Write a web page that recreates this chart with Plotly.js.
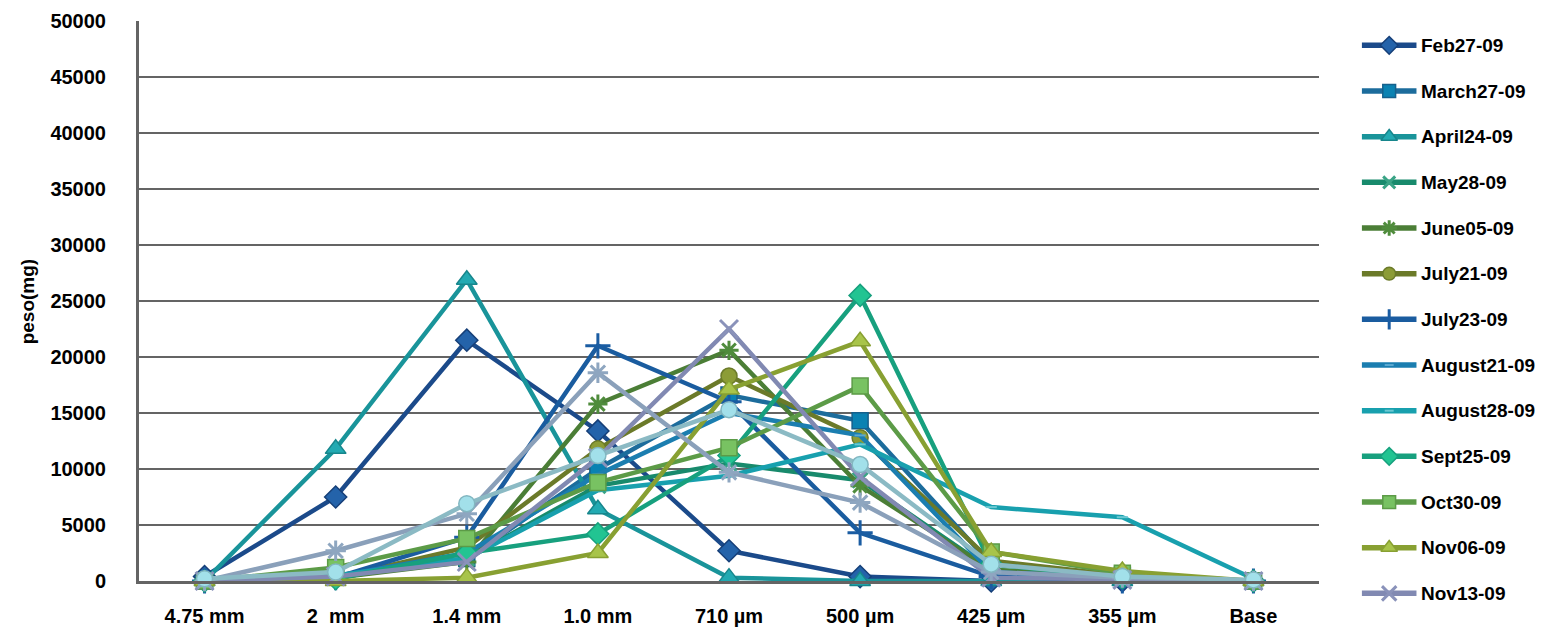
<!DOCTYPE html>
<html>
<head>
<meta charset="utf-8">
<script src="https://cdn.plot.ly/plotly-3.0.1.min.js"></script>
<style>
  html, body { margin: 0; padding: 0; background: #ffffff; }
  #chart { width: 1557px; height: 631px; }
</style>
</head>
<body>
<div id="chart"></div>
<script>
// Sieve fractions (x axis)
const categories = ["4.75 mm", "2\u00a0 mm", "1.4 mm", "1.0 mm", "710 µm", "500 µm", "425 µm", "355 µm", "Base"];

// Retained weight per sampling date, mg
const feb27    = [400, 7500, 21500, 13400, 2700, 400, 0, 0, 0];
const march27  = [0, 500, 2000, 10000, 16600, 14300, 1500, 500, 0];
const april24  = [0, 11800, 26900, 6400, 300, 0, 0, 0, 0];
const may28    = [0, 300, 2000, 8500, 10500, 9000, 1000, 300, 0];
const june05   = [0, 300, 1700, 15800, 20600, 8500, 1000, 400, 0];
const july21   = [0, 300, 3000, 11800, 18300, 12800, 1800, 500, 0];
const july23   = [0, 300, 3900, 21000, 16000, 4300, 400, 0, 0];
const august21 = [0, 400, 2500, 9500, 15000, 13000, 800, 300, 0];
const august28 = [0, 500, 2000, 8100, 9400, 12200, 6600, 5700, 200];
const sept25   = [0, 200, 2500, 4200, 11200, 25500, 1500, 300, 0];
const oct30    = [0, 1200, 3800, 8800, 11900, 17400, 2600, 700, 0];
const nov06    = [0, 0, 300, 2500, 17100, 21400, 2600, 900, 0];
const nov13    = [0, 400, 1700, 11000, 22500, 9300, 300, 100, 0];
const nov27    = [0, 2700, 6000, 18600, 9700, 7000, 800, 300, 0];
const dec11    = [200, 800, 6900, 11200, 15300, 10400, 1500, 400, 100];

// Series styling: line colour, marker symbol, marker fill, marker outline, size
const series = [
  {name: "Feb27-09",    y: feb27,    line: "#1b4a8a", sym: "diamond",     fill: "#2463aa", edge: "#163f78", size: 17, legend: true},
  {name: "March27-09",  y: march27,  line: "#1c6c9c", sym: "square",      fill: "#0a82b2", edge: "#15608c", size: 16, legend: true},
  {name: "April24-09",  y: april24,  line: "#19949a", sym: "triangle-up", fill: "#22aab2", edge: "#17868c", size: 18, legend: true},
  {name: "May28-09",    y: may28,    line: "#188a6c", sym: "x-thin",      fill: "#3aa486", edge: "#3aa486", size: 15, legend: true},
  {name: "June05-09",   y: june05,   line: "#4b7e36", sym: "asterisk",    fill: "#4f8c3c", edge: "#4f8c3c", size: 16, legend: true},
  {name: "July21-09",   y: july21,   line: "#6b7a29", sym: "circle",      fill: "#8c9c36", edge: "#6b7a29", size: 16, legend: true},
  {name: "July23-09",   y: july23,   line: "#1a5c9f", sym: "cross-thin",  fill: "#1a5ca2", edge: "#1a5ca2", size: 18, legend: true},
  {name: "August21-09", y: august21, line: "#1b7eb0", sym: "line-ew",     fill: "#5aa8d0", edge: "#5aa8d0", size: 8,  legend: true},
  {name: "August28-09", y: august28, line: "#18a0ae", sym: "line-ew",     fill: "#6ac8d2", edge: "#6ac8d2", size: 8,  legend: true},
  {name: "Sept25-09",   y: sept25,   line: "#17a07e", sym: "diamond",     fill: "#22c492", edge: "#17a07e", size: 17, legend: true},
  {name: "Oct30-09",    y: oct30,    line: "#5c9b47", sym: "square",      fill: "#78c262", edge: "#5c9b47", size: 16, legend: true},
  {name: "Nov06-09",    y: nov06,    line: "#88a032", sym: "triangle-up", fill: "#a8c44a", edge: "#88a032", size: 18, legend: true},
  {name: "Nov13-09",    y: nov13,    line: "#8189b2", sym: "x-thin",      fill: "#8a92ba", edge: "#8a92ba", size: 18, legend: true},
  {name: "Nov27-09",    y: nov27,    line: "#8aa0ba", sym: "asterisk",    fill: "#8ea6c0", edge: "#8ea6c0", size: 17, legend: false},
  {name: "Dec11-09",    y: dec11,    line: "#8bbac4", sym: "circle",      fill: "#a2e0ea", edge: "#82b6c0", size: 16, legend: false}
];

const lineOnly = s => /thin|asterisk|line-/.test(s);

function markerStyle(s, scale) {
  if (lineOnly(s.sym)) {
    return {symbol: s.sym, size: s.size * scale, color: s.edge,
            line: {color: s.edge, width: s.sym === "line-ew" ? 2 : 3}};
  }
  return {symbol: s.sym, size: s.size * scale, color: s.fill,
          line: {color: s.edge, width: 1.5}};
}

const traces = [];
series.forEach(s => {
  traces.push({
    type: "scatter", mode: "lines+markers", name: s.name,
    x: categories, y: s.y, xaxis: "x", yaxis: "y",
    line: {color: s.line, width: 4.5},
    marker: markerStyle(s, 1),
    cliponaxis: false, showlegend: false, hoverinfo: "skip"
  });
});

// Legend drawn on its own small axis pair: one row per series
const legendRows = series.filter(s => s.legend);
const annotations = [];
legendRows.forEach((s, i) => {
  traces.push({
    type: "scatter", mode: "lines", x: [0, 1], y: [i, i],
    xaxis: "x2", yaxis: "y2", line: {color: s.line, width: 5.5},
    showlegend: false, hoverinfo: "skip", cliponaxis: false
  });
  traces.push({
    type: "scatter", mode: "markers", x: [0.5], y: [i],
    xaxis: "x2", yaxis: "y2", marker: markerStyle(s, 0.8),
    showlegend: false, hoverinfo: "skip", cliponaxis: false
  });
  annotations.push({
    xref: "x2", yref: "y2", x: 1, y: i, xanchor: "left", yanchor: "middle",
    xshift: 2, showarrow: false, text: s.name,
    font: {family: "Liberation Sans, Arial, sans-serif", size: 19, color: "#000000", weight: "bold"}
  });
});

annotations.push({
  xref: "paper", yref: "paper", x: -0.0795, y: 0.525, xanchor: "center", yanchor: "middle",
  textangle: -90, showarrow: false, text: "peso(mg)",
  font: {family: "Liberation Sans, Arial, sans-serif", size: 19, color: "#000000", weight: "bold"}
});

const tickFont = {family: "Liberation Sans, Arial, sans-serif", size: 20, color: "#000000", weight: "bold"};

const layout = {
  width: 1557, height: 631,
  margin: {l: 139, r: 10, t: 21, b: 20},
  paper_bgcolor: "#ffffff", plot_bgcolor: "#ffffff",
  showlegend: false,
  xaxis: {
    domain: [0, 0.83807], type: "category", range: [-0.5, 8.5],
    showgrid: false, zeroline: false, showline: true,
    linecolor: "#646464", linewidth: 3, ticks: "",
    tickfont: tickFont, ticklabelstandoff: 15, fixedrange: true
  },
  yaxis: {
    domain: [0.05085, 1], range: [0, 50000], dtick: 5000, tickformat: "d",
    showgrid: true, gridcolor: "#646464", gridwidth: 2.5,
    zeroline: false, showline: true, linecolor: "#646464", linewidth: 3,
    ticks: "", tickfont: tickFont, ticklabelstandoff: 26, fixedrange: true
  },
  xaxis2: {domain: [0.86839, 0.90745], range: [0, 1], anchor: "y2", visible: false, fixedrange: true},
  yaxis2: {domain: [0, 1], range: [12.386, -0.533], anchor: "x2", visible: false, fixedrange: true},
  annotations: annotations
};

Plotly.newPlot("chart", traces, layout, {staticPlot: true, displayModeBar: false});
</script>
</body>
</html>
